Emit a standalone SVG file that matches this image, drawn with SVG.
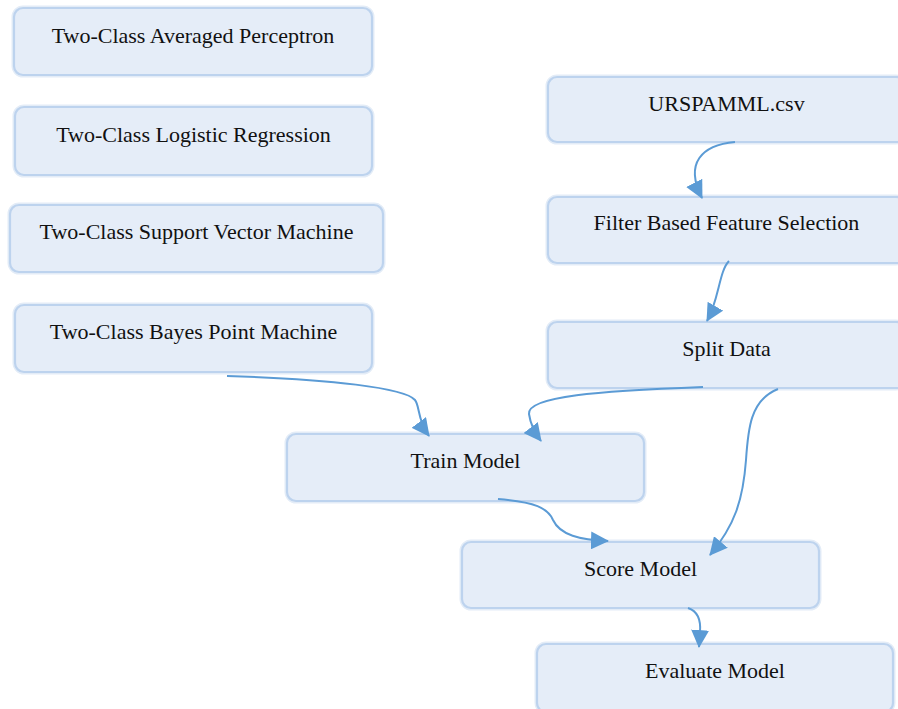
<svg xmlns="http://www.w3.org/2000/svg" width="898" height="709" viewBox="0 0 898 709">
  <style>
    .box { fill: #e5edf8; stroke: #bdd3ee; stroke-width: 2.2; }
    .glow { fill: none; stroke: #e3ecf7; stroke-width: 5; }
    .label { font-family: "Liberation Serif", "Times New Roman", serif; font-size: 22px; fill: #111111; text-anchor: middle; }
    .edge { fill: none; stroke: #5b9bd5; stroke-width: 2; marker-end: url(#arrow); }
  </style>
  <defs>
    <marker id="arrow" viewBox="0 0 18 18" markerUnits="userSpaceOnUse" markerWidth="18" markerHeight="18" refX="17" refY="9" orient="auto">
      <path d="M0,0 L18,9 L0,18 z" fill="#5b9bd5"/>
    </marker>
  </defs>
  <rect width="898" height="709" fill="#ffffff"/>

  <g id="node-averaged-perceptron">
    <rect class="glow" x="14" y="8" width="358" height="67" rx="9"/>
    <rect class="box" x="14" y="8" width="358" height="67" rx="9"/>
    <text class="label" x="193" y="43">Two-Class Averaged Perceptron</text>
  </g>
  <g id="node-logistic-regression">
    <rect class="glow" x="15" y="107" width="357" height="68" rx="9"/>
    <rect class="box" x="15" y="107" width="357" height="68" rx="9"/>
    <text class="label" x="193.5" y="142">Two-Class Logistic Regression</text>
  </g>
  <g id="node-support-vector-machine">
    <rect class="glow" x="10" y="205" width="373" height="67" rx="9"/>
    <rect class="box" x="10" y="205" width="373" height="67" rx="9"/>
    <text class="label" x="196.5" y="239">Two-Class Support Vector Machine</text>
  </g>
  <g id="node-bayes-point-machine">
    <rect class="glow" x="15" y="305" width="357" height="67" rx="9"/>
    <rect class="box" x="15" y="305" width="357" height="67" rx="9"/>
    <text class="label" x="193.5" y="339">Two-Class Bayes Point Machine</text>
  </g>
  <g id="node-urspamml">
    <rect class="glow" x="548" y="77" width="357" height="65" rx="9"/>
    <rect class="box" x="548" y="77" width="357" height="65" rx="9"/>
    <text class="label" x="726.5" y="111">URSPAMML.csv</text>
  </g>
  <g id="node-filter-selection">
    <rect class="glow" x="548" y="197" width="357" height="66" rx="9"/>
    <rect class="box" x="548" y="197" width="357" height="66" rx="9"/>
    <text class="label" x="726.5" y="230">Filter Based Feature Selection</text>
  </g>
  <g id="node-split-data">
    <rect class="glow" x="548" y="322" width="357" height="66" rx="9"/>
    <rect class="box" x="548" y="322" width="357" height="66" rx="9"/>
    <text class="label" x="726.5" y="356">Split Data</text>
  </g>
  <g id="node-train-model">
    <rect class="glow" x="287" y="434" width="357" height="67" rx="9"/>
    <rect class="box" x="287" y="434" width="357" height="67" rx="9"/>
    <text class="label" x="465.5" y="468">Train Model</text>
  </g>
  <g id="node-score-model">
    <rect class="glow" x="462" y="542" width="357" height="66" rx="9"/>
    <rect class="box" x="462" y="542" width="357" height="66" rx="9"/>
    <text class="label" x="640.5" y="576">Score Model</text>
  </g>
  <g id="node-evaluate-model">
    <rect class="glow" x="537" y="644" width="356" height="68" rx="9"/>
    <rect class="box" x="537" y="644" width="356" height="68" rx="9"/>
    <text class="label" x="715" y="678">Evaluate Model</text>
  </g>

  <g id="connectors">
    <path class="edge" d="M735,142 C702,145 684,163 702,198"/>
    <path class="edge" d="M729,261 C719,271 719,300 707,321"/>
    <path class="edge" d="M703,387 C600,391 527,396 529,414 Q531,428 541,441"/>
    <path class="edge" d="M227,376 C330,379 405,388 415,400 C420,406 417,420 429,436"/>
    <path class="edge" d="M498,499 C535,502 548,508 553,520 C560,535 580,540 608,541"/>
    <path class="edge" d="M778,389 C750,400 748,430 746,460 C743,500 735,525 710,555"/>
    <path class="edge" d="M688,608 C697,611 701,620 700,632 L699,647"/>
  </g>
</svg>
